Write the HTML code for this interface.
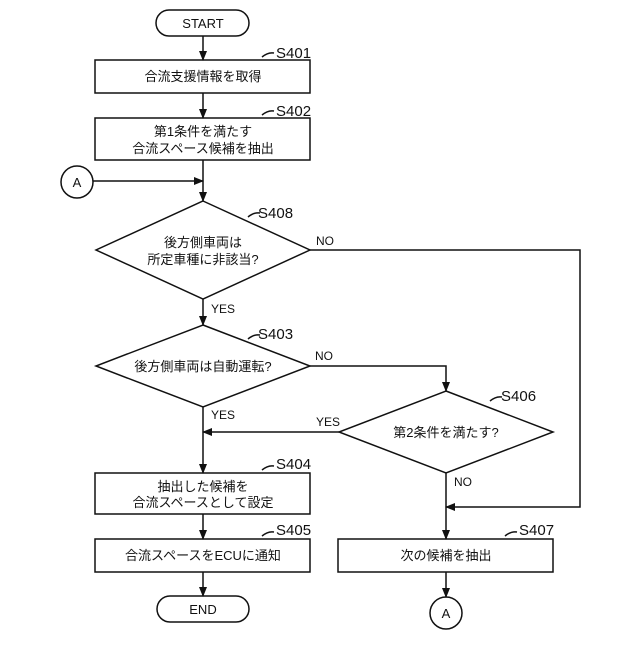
<!DOCTYPE html>
<html><head><meta charset="utf-8"><style>
body{margin:0;background:#fff}
text{font-family:"Liberation Sans","Noto Sans CJK JP",sans-serif;fill:#111}
</style></head><body>
<svg width="640" height="640" viewBox="0 0 640 640" xmlns="http://www.w3.org/2000/svg">
<defs><marker id="a" markerWidth="10" markerHeight="8" refX="9" refY="4" orient="auto" markerUnits="userSpaceOnUse"><path d="M0,0 L10,4 L0,8 z" fill="#111"/></marker></defs>
<g stroke="#111" stroke-width="1.5" fill="none">
<rect x="156" y="10" width="93" height="26" rx="13"/>
<rect x="95" y="60" width="215" height="33"/>
<rect x="95" y="118" width="215" height="42"/>
<circle cx="77" cy="182" r="16"/>
<polygon points="203,201 310,250 203,299 96,250"/>
<polygon points="203,325 310,366 203,407 96,366"/>
<polygon points="446,391 553,432 446,473 339,432"/>
<rect x="95" y="473" width="215" height="41"/>
<rect x="95" y="539" width="215" height="33"/>
<rect x="157" y="596" width="92" height="26" rx="13"/>
<rect x="338" y="539" width="215" height="33"/>
<circle cx="446" cy="613" r="16"/>
<line x1="203" y1="36" x2="203" y2="60" marker-end="url(#a)"/>
<line x1="203" y1="93" x2="203" y2="118" marker-end="url(#a)"/>
<line x1="203" y1="160" x2="203" y2="201" marker-end="url(#a)"/>
<line x1="93" y1="181" x2="203" y2="181" marker-end="url(#a)"/>
<line x1="203" y1="299" x2="203" y2="325" marker-end="url(#a)"/>
<polyline points="310,366 446,366 446,391" marker-end="url(#a)"/>
<line x1="339" y1="432" x2="203" y2="432" marker-end="url(#a)"/>
<line x1="203" y1="407" x2="203" y2="473" marker-end="url(#a)"/>
<line x1="203" y1="514" x2="203" y2="539" marker-end="url(#a)"/>
<line x1="203" y1="572" x2="203" y2="596" marker-end="url(#a)"/>
<line x1="446" y1="473" x2="446" y2="539" marker-end="url(#a)"/>
<polyline points="310,250 580,250 580,507 446,507" marker-end="url(#a)"/>
<line x1="446" y1="572" x2="446" y2="597" marker-end="url(#a)"/>
<path d="M262,57 q6,-5 12,-4"/><path d="M262,115 q6,-5 12,-4"/>
<path d="M248,217 q6,-5 12,-4"/><path d="M248,339 q6,-5 12,-4"/>
<path d="M490,401 q6,-5 12,-4"/><path d="M262,470 q6,-5 12,-4"/>
<path d="M262,536 q6,-5 12,-4"/><path d="M505,536 q6,-5 12,-4"/>
</g>
<g font-size="13" text-anchor="middle">
<text x="203" y="28">START</text>
<text x="203" y="81">合流支援情報を取得</text>
<text x="203" y="136">第1条件を満たす</text>
<text x="203" y="153">合流スペース候補を抽出</text>
<text x="77" y="187">A</text>
<text x="203" y="247">後方側車両は</text>
<text x="203" y="264">所定車種に非該当?</text>
<text x="203" y="371">後方側車両は自動運転?</text>
<text x="446" y="437">第2条件を満たす?</text>
<text x="203" y="491">抽出した候補を</text>
<text x="203" y="507">合流スペースとして設定</text>
<text x="203" y="560">合流スペースをECUに通知</text>
<text x="203" y="614">END</text>
<text x="446" y="560">次の候補を抽出</text>
<text x="446" y="618">A</text>
</g>
<g font-size="15">
<text x="276" y="58">S401</text><text x="276" y="116">S402</text>
<text x="258" y="218">S408</text><text x="258" y="339">S403</text>
<text x="501" y="401">S406</text><text x="276" y="469">S404</text>
<text x="276" y="535">S405</text><text x="519" y="535">S407</text>
</g>
<g font-size="12">
<text x="316" y="245">NO</text><text x="211" y="313">YES</text>
<text x="315" y="360">NO</text><text x="211" y="419">YES</text>
<text x="316" y="426">YES</text><text x="454" y="486">NO</text>
</g>
</svg>
</body></html>
